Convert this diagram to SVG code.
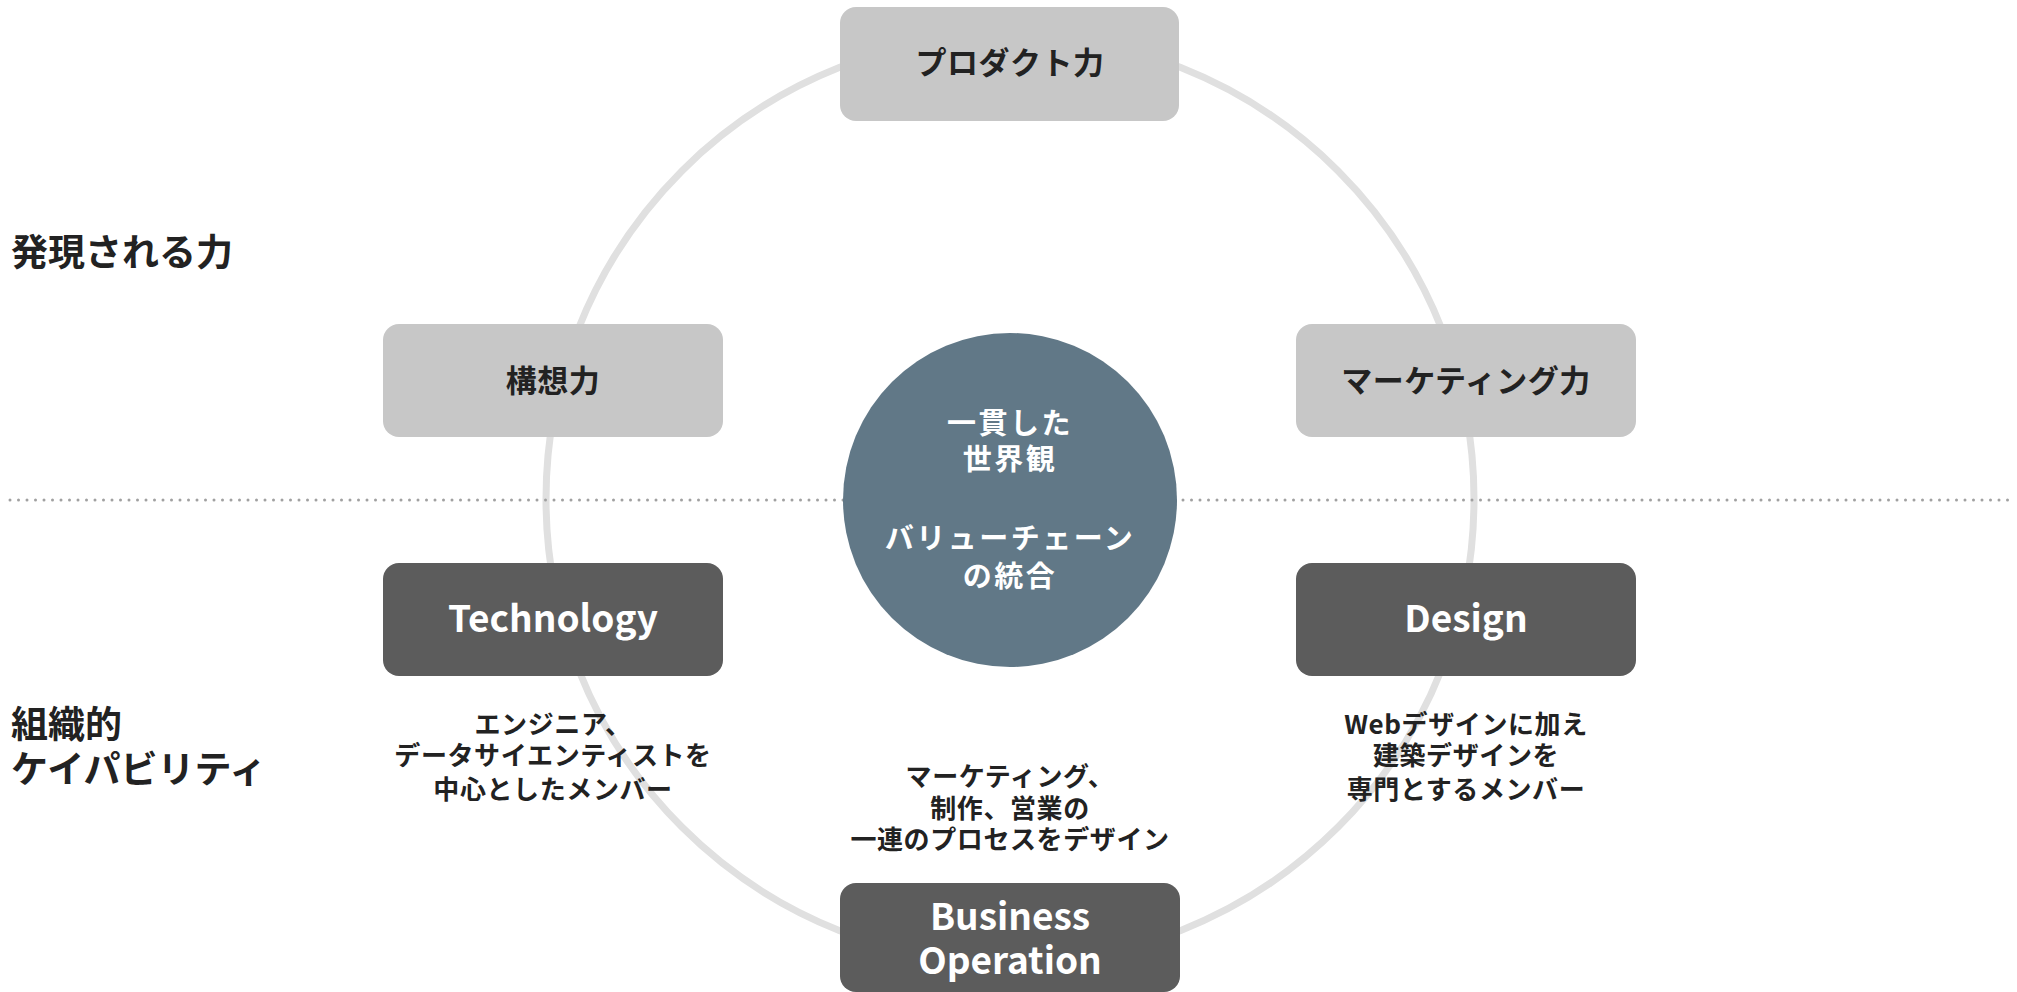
<svg xmlns="http://www.w3.org/2000/svg" width="2017" height="992" viewBox="0 0 2017 992">
<style>
text{font-family:"Noto Sans CJK JP","Noto Sans",sans-serif;font-weight:700;dominant-baseline:central;text-anchor:middle}
.title{font-size:37px;fill:#222;text-anchor:start}
.lbl{font-size:31px;fill:#222;letter-spacing:0.5px}
.en{font-size:37px;fill:#fff}
.ctr{font-size:29px;fill:#fff;letter-spacing:2.5px}
.desc{font-size:26px;fill:#222;letter-spacing:0.6px}
.light{fill:#c7c7c7}
.dark{fill:#5c5c5c}
</style>
<rect width="2017" height="992" fill="#fff"/>
<g id="connectors">
<circle cx="1010" cy="499" r="464" fill="none" stroke="#e0e0e0" stroke-width="7"/>
<line x1="10" y1="500" x2="2010" y2="500" stroke="#a0a0a0" stroke-width="3" stroke-linecap="round" stroke-dasharray="0 8.5"/>
</g>
<g id="label-hatsugen"><text class="title" x="11" y="250">発現される力</text></g>
<g id="label-soshiki"><text class="title" x="11" y="722">組織的</text><text class="title" x="11" y="767">ケイパビリティ</text></g>
<g id="node-product"><rect class="light" x="840" y="7" width="339" height="114" rx="16"/><text class="lbl" x="1010" y="60">プロダクト力</text></g>
<g id="node-kousou"><rect class="light" x="383" y="324" width="340" height="113" rx="16"/><text class="lbl" x="553" y="378">構想力</text></g>
<g id="node-marketing"><rect class="light" x="1296" y="324" width="340" height="113" rx="16"/><text class="lbl" x="1466" y="378">マーケティング力</text></g>
<g id="node-center"><circle cx="1010" cy="500" r="167" fill="#617887"/>
<text class="ctr" x="1010" y="421">一貫した</text><text class="ctr" x="1010" y="457">世界観</text><text class="ctr" x="1010" y="536">バリューチェーン</text><text class="ctr" x="1010" y="574">の統合</text></g>
<g id="node-technology"><rect class="dark" x="383" y="563" width="340" height="113" rx="16"/><text class="en" x="553" y="616">Technology</text></g>
<g id="node-design"><rect class="dark" x="1296" y="563" width="340" height="113" rx="16"/><text class="en" x="1466" y="616">Design</text></g>
<g id="node-business"><rect class="dark" x="840" y="883" width="340" height="109" rx="16"/><text class="en" x="1010" y="914">Business</text><text class="en" x="1010" y="958">Operation</text></g>
<g id="desc-technology"><text class="desc" x="553" y="722">エンジニア、</text><text class="desc" x="553" y="753">データサイエンティストを</text><text class="desc" x="553" y="787">中心としたメンバー</text></g>
<g id="desc-design"><text class="desc" x="1466" y="722">Webデザインに加え</text><text class="desc" x="1466" y="753">建築デザインを</text><text class="desc" x="1466" y="787">専門とするメンバー</text></g>
<g id="desc-business"><text class="desc" x="1010" y="774">マーケティング、</text><text class="desc" x="1010" y="806">制作、営業の</text><text class="desc" x="1010" y="837">一連のプロセスをデザイン</text></g>
</svg>
